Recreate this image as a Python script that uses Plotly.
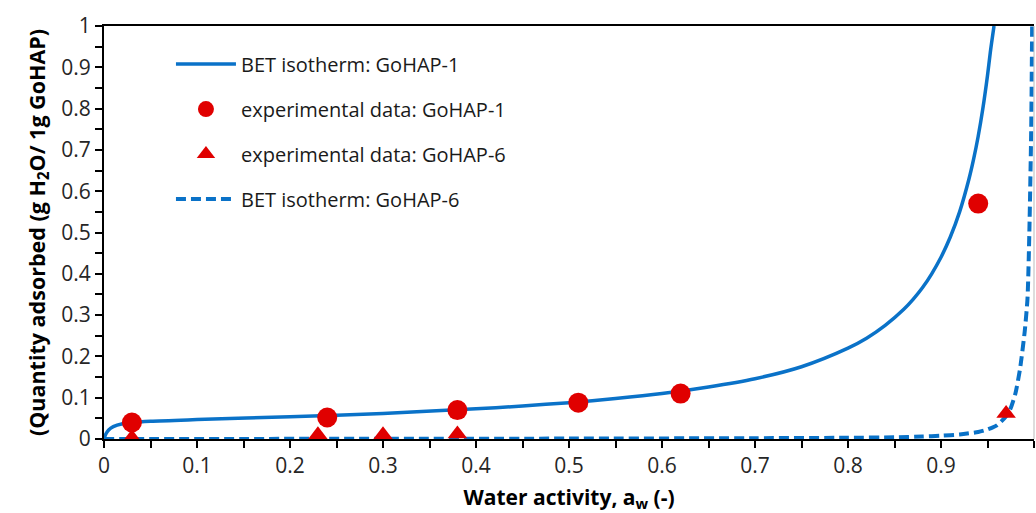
import plotly.graph_objects as go

# BET isotherm GoHAP-1
bet1_x = [0, 0.002, 0.005, 0.01, 0.02, 0.03, 0.05, 0.1, 0.2, 0.3, 0.4, 0.45, 0.5, 0.55,
          0.6, 0.65, 0.7, 0.75, 0.8, 0.82, 0.84, 0.86, 0.87, 0.88, 0.89, 0.9, 0.91, 0.92,
          0.93, 0.935, 0.94, 0.945, 0.95, 0.953, 0.957]
bet1_y = [0, 0.012, 0.022, 0.030, 0.037, 0.040, 0.043, 0.047, 0.054, 0.062, 0.073, 0.080,
          0.088, 0.098, 0.110, 0.126, 0.146, 0.175, 0.220, 0.244, 0.275, 0.314, 0.338,
          0.366, 0.400, 0.440, 0.489, 0.550, 0.629, 0.677, 0.733, 0.800, 0.880, 0.936, 1.0]

# experimental data GoHAP-1
exp1_x = [0.03, 0.24, 0.38, 0.51, 0.62, 0.94]
exp1_y = [0.040, 0.052, 0.070, 0.088, 0.110, 0.570]

# experimental data GoHAP-6
exp6_x = [0.03, 0.23, 0.30, 0.38, 0.97]
exp6_y = [0.003, 0.010, 0.010, 0.012, 0.062]

# BET isotherm GoHAP-6
bet6_x = [0, 0.3, 0.5, 0.7, 0.8, 0.85, 0.88, 0.9, 0.92, 0.94, 0.95, 0.96, 0.97, 0.975,
          0.98, 0.985, 0.99, 0.993, 0.995, 0.997, 0.998]
bet6_y = [0, 0.0005, 0.001, 0.002, 0.003, 0.004, 0.006, 0.008, 0.011, 0.017, 0.023, 0.033,
          0.055, 0.075, 0.11, 0.17, 0.26, 0.34, 0.5, 0.75, 1.0]

x_ticks = [0, 0.1, 0.2, 0.3, 0.4, 0.5, 0.6, 0.7, 0.8, 0.9, 1]
x_tick_text = ["0", "0.1", "0.2", "0.3", "0.4", "0.5", "0.6", "0.7", "0.8", "0.9", "1"]
y_ticks = [0, 0.1, 0.2, 0.3, 0.4, 0.5, 0.6, 0.7, 0.8, 0.9, 1]
y_tick_text = ["0", "0.1", "0.2", "0.3", "0.4", "0.5", "0.6", "0.7", "0.8", "0.9", "1"]

BLUE = "#0A72C8"
RED = "#E00000"
FONT = "Open Sans"

fig = go.Figure()
fig.add_trace(go.Scatter(x=bet1_x, y=bet1_y, mode="lines", name="BET isotherm: GoHAP-1",
                         line=dict(color=BLUE, width=3.5, shape="spline", smoothing=0.8),
                         legendgroup="a", legendrank=1))
fig.add_trace(go.Scatter(x=bet6_x, y=bet6_y, mode="lines", name="BET isotherm: GoHAP-6",
                         line=dict(color=BLUE, width=4, dash="10px,5px", shape="spline", smoothing=0.6),
                         legendgroup="d", legendrank=4))
fig.add_trace(go.Scatter(x=exp6_x, y=exp6_y, mode="markers", name="experimental data: GoHAP-6",
                         marker=dict(symbol="triangle-up", color=RED, size=17),
                         legendgroup="c", legendrank=3))
fig.add_trace(go.Scatter(x=exp1_x, y=exp1_y, mode="markers", name="experimental data: GoHAP-1",
                         marker=dict(symbol="circle", color=RED, size=20),
                         legendgroup="b", legendrank=2))

fig.update_layout(
    width=1036, height=513,
    margin=dict(l=104, r=2, t=26, b=74),
    paper_bgcolor="white", plot_bgcolor="white",
    font=dict(family=FONT, size=20, color="#262626"),
    showlegend=True,
    legend=dict(x=0.072, y=0.955, xanchor="left", yanchor="top",
                bgcolor="rgba(0,0,0,0)", font=dict(size=20, color="#1a1a1a"),
                traceorder="grouped", tracegroupgap=16, itemwidth=60),
    xaxis=dict(range=[0, 1], tickmode="array", tickvals=x_ticks, ticktext=x_tick_text,
               tickfont=dict(size=21, color="#262626"),
               showgrid=False, zeroline=False, showline=True, linecolor="black", linewidth=2,
               mirror=True, ticks="outside", ticklen=7, tickwidth=2, tickcolor="black",
               minor=dict(dtick=0.05, ticks="outside", ticklen=7, tickwidth=2, tickcolor="black"),
               title=dict(text="<b>Water activity, a<sub>w</sub> (-)</b>", standoff=14,
                          font=dict(size=21, color="black"))),
    yaxis=dict(range=[0, 1], tickmode="array", tickvals=y_ticks, ticktext=y_tick_text,
               tickfont=dict(size=21, color="#262626"),
               showgrid=False, zeroline=False, showline=True, linecolor="black", linewidth=2,
               ticks="outside", ticklen=7, tickwidth=2, tickcolor="black",
               minor=dict(dtick=0.05, ticks="outside", ticklen=7, tickwidth=2, tickcolor="black"),
               title=dict(text="<b>(Quantity adsorbed (g H<sub>2</sub>O/ 1g GoHAP)</b>", standoff=10,
                          font=dict(size=21.5, color="black"))),
)
fig.add_shape(type="line", xref="paper", yref="paper", x0=1, x1=1, y0=0, y1=1,
              line=dict(color="#bbbbbb", width=1))

fig.write_html("out.html")
